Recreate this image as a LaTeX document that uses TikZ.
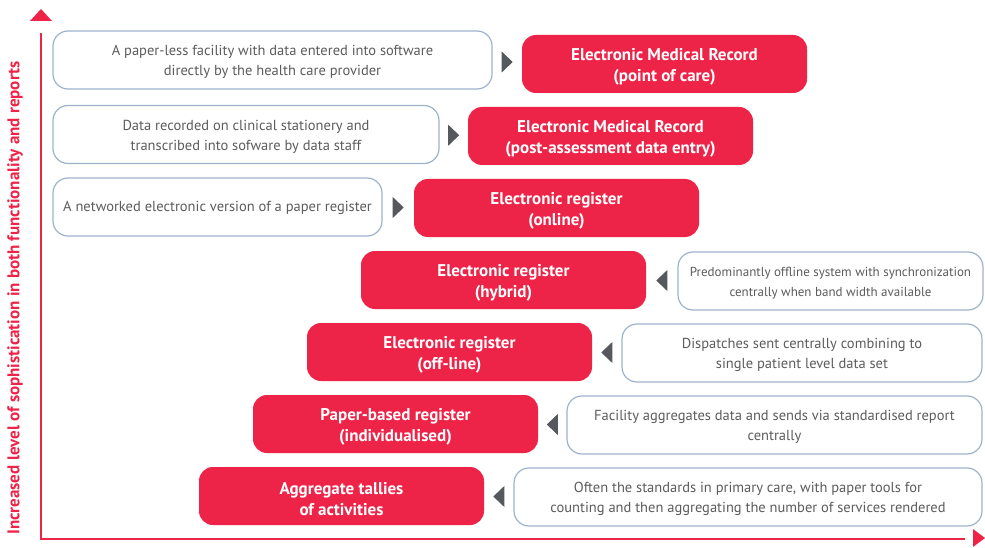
\documentclass[tikz,border=0pt]{standalone}
\usepackage{fontspec}
\setmainfont{PT Sans}
\usetikzlibrary{calc}
\definecolor{myred}{RGB}{238,35,72}
\definecolor{myborder}{RGB}{157,179,204}
\definecolor{mytext}{RGB}{92,92,92}
\definecolor{mytri}{RGB}{85,88,92}
\tikzset{
  redbox/.style={rectangle, rounded corners=14pt, fill=myred, draw=none,
    minimum width=285pt, minimum height=58pt, inner sep=0pt},
  redtext/.style={text=white, font=\fontsize{17}{21}\selectfont\bfseries, align=center, inner sep=0pt},
  graybox/.style={rectangle, rounded corners=15pt, draw=myborder, line width=1.2pt, fill=white,
    minimum height=58pt, inner sep=0pt},
  graytext/.style={text=mytext, font=\fontsize{14.5}{20}\selectfont, align=center, inner sep=0pt},
  smalltext/.style={font=\fontsize{13}{20}\selectfont},
  tri/.style={fill=mytri},
  axisline/.style={draw=myred, line width=2.2pt},
  axishead/.style={fill=myred},
}
\begin{document}
\begin{tikzpicture}[x=1pt,y=-1pt]
\useasboundingbox (0,0) rectangle (985,548);
% axes
\coordinate (atop) at (41,33);
\coordinate (aorig) at (41,539);
\coordinate (aright) at (965,539);
\draw[axisline] (atop) -- (aorig) -- (aright);
\fill[axishead] (30,21) -- (41,9) -- (52,21) -- cycle;
\fill[axishead] (973,529) -- (985,538) -- (973,547) -- cycle;
\node[rotate=90, text=myred, font=\fontsize{17}{19}\selectfont\bfseries] (ylab) at (15,298)
  {Increased level of sophistication in both functionality and reports};
% red boxes
\node[redbox] (r1) at (664.5,64) {};
\node[redbox] (r2) at (610.5,136) {};
\node[redbox] (r3) at (556.5,208) {};
\node[redbox] (r4) at (503.5,280) {};
\node[redbox] (r5) at (449.5,352) {};
\node[redbox] (r6) at (395.5,424) {};
\node[redbox] (r7) at (341.5,496) {};
\node[redtext] (r1t) at ([yshift=-3pt]r1.center) {Electronic Medical Record\\(point of care)};
\node[redtext] (r2t) at ([yshift=-3pt]r2.center) {Electronic Medical Record\\(post-assessment data entry)};
\node[redtext] (r3t) at ([yshift=-3pt]r3.center) {Electronic register\\(online)};
\node[redtext] (r4t) at ([yshift=-3pt]r4.center) {Electronic register\\(hybrid)};
\node[redtext] (r5t) at ([yshift=-3pt]r5.center) {Electronic register\\(off-line)};
\node[redtext] (r6t) at ([yshift=-3pt]r6.center) {Paper-based register\\(individualised)};
\node[redtext] (r7t) at ([yshift=-3pt]r7.center) {Aggregate tallies\\of activities};
% gray boxes
\node[graybox, minimum width=439pt] (g1) at (272.5,60) {};
\node[graybox, minimum width=386pt] (g2) at (246,134.5) {};
\node[graybox, minimum width=329pt] (g3) at (217.5,207) {};
\node[graybox, minimum width=305pt] (g4) at (830.5,281) {};
\node[graybox, minimum width=360pt] (g5) at (802,353) {};
\node[graybox, minimum width=415pt] (g6) at (774.5,425) {};
\node[graybox, minimum width=468pt] (g7) at (748,497) {};
\node[graytext] (g1t) at ([yshift=-2pt]g1.center) {A paper-less facility with data entered into software\\directly by the health care provider};
\node[graytext] (g2t) at ([yshift=-2pt]g2.center) {Data recorded on clinical stationery and\\transcribed into sofware by data staff};
\node[graytext] (g3t) at ([yshift=-1pt]g3.center) {A networked electronic version of a paper register};
\node[graytext, smalltext] (g4t) at ([yshift=-2pt]g4.center) {Predominantly offline system with synchronization\\centrally when band width available};
\node[graytext] (g5t) at ([yshift=-2pt]g5.center) {Dispatches sent centrally combining to\\single patient level data set};
\node[graytext] (g6t) at ([yshift=-2pt]g6.center) {Facility aggregates data and sends via standardised report\\centrally};
\node[graytext] (g7t) at ([yshift=-2pt]g7.center) {Often the standards in primary care, with paper tools for\\counting and then aggregating the number of services rendered};
% triangles
\foreach \g/\r in {g1/r1,g2/r2,g3/r3}{
  \coordinate (t) at ($(\g.east)!0.5!(\r.west)$);
  \fill[tri] ($(t)+(-5.5,-10.5)$) -- ($(t)+(5.5,0)$) -- ($(t)+(-5.5,10.5)$) -- cycle;
}
\foreach \g/\r in {g4/r4,g5/r5,g6/r6,g7/r7}{
  \coordinate (t) at ($(\g.west)!0.5!(\r.east)$);
  \fill[tri] ($(t)+(5.5,-10.5)$) -- ($(t)+(-5.5,0)$) -- ($(t)+(5.5,10.5)$) -- cycle;
}
\end{tikzpicture}
\end{document}
